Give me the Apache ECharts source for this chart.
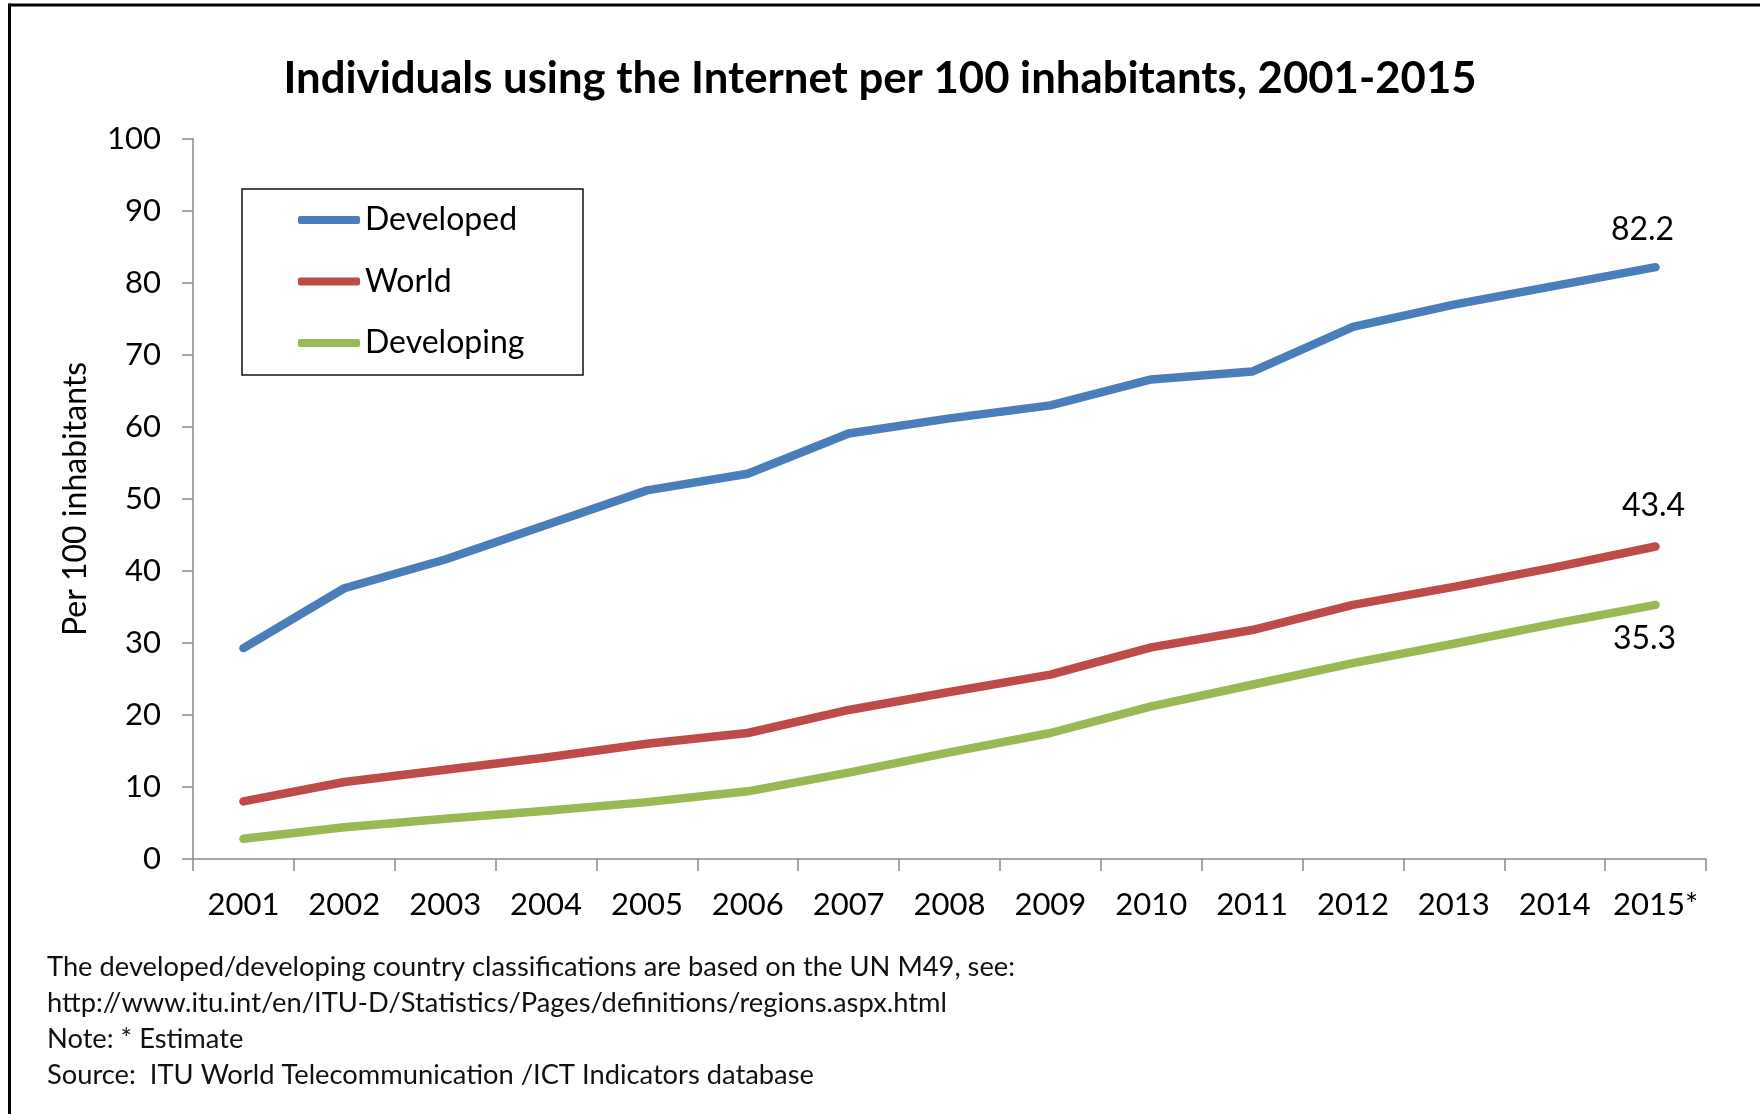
<!DOCTYPE html>
<html>
<head>
<meta charset="utf-8">
<script src="https://cdn.jsdelivr.net/npm/echarts@6/dist/echarts.min.js"></script>
<style>
html,body{margin:0;padding:0;background:#fff;}
#chart{width:1760px;height:1114px;}
</style>
</head>
<body>
<div id="chart"></div>
<script>
const years = ['2001','2002','2003','2004','2005','2006','2007','2008','2009','2010','2011','2012','2013','2014','2015*'];
const developed = [29.3, 37.6, 41.6, 46.4, 51.2, 53.5, 59.1, 61.2, 63.0, 66.6, 67.7, 73.9, 77.0, 79.6, 82.2];
const world = [8.0, 10.7, 12.4, 14.1, 16.0, 17.5, 20.7, 23.2, 25.6, 29.4, 31.8, 35.3, 37.8, 40.5, 43.4];
const developing = [2.8, 4.4, 5.6, 6.7, 7.9, 9.4, 12.0, 14.8, 17.5, 21.2, 24.2, 27.2, 29.9, 32.7, 35.3];
const yTicks = {min: 0, max: 100, interval: 10};
const titleText = 'Individuals using the Internet per 100 inhabitants, 2001-2015';
const yAxisName = 'Per 100 inhabitants';
const notes = [
  'The developed/developing country classifications are based on the UN M49, see:',
  'http://www.itu.int/en/ITU-D/Statistics/Pages/definitions/regions.aspx.html',
  'Note: * Estimate',
  'Source:  ITU World Telecommunication /ICT Indicators database'
];

const FONT = 'Lato, "Noto Sans", sans-serif';
const last = years.length - 1;

function mkData(arr, lab) {
  return arr.map((v, i) => i === last ? {value: v, label: Object.assign({show: true}, lab)} : v);
}

function mkSeries(name, arr, color, lab) {
  return {
    name: name,
    type: 'line',
    data: mkData(arr, lab),
    symbol: 'circle',
    symbolSize: 0.1,
    showSymbol: true,
    lineStyle: {color: color, width: 8.5, cap: 'round', join: 'round'},
    itemStyle: {color: color},
    label: {show: false, color: '#000', fontSize: 32, fontFamily: FONT},
    emphasis: {disabled: true},
    animation: false
  };
}

const chart = echarts.init(document.getElementById('chart'), null, {renderer: 'canvas'});
const graphics = [
  {type: 'line', shape: {x1: 9.5, y1: 5, x2: 1760, y2: 5}, style: {stroke: '#000', lineWidth: 3}},
  {type: 'line', shape: {x1: 9.5, y1: 3.5, x2: 9.5, y2: 1114}, style: {stroke: '#000', lineWidth: 3}},
  {type: 'rect', shape: {x: 242, y: 189, width: 341, height: 186}, style: {fill: 'none', stroke: '#111', lineWidth: 1.5}, z: 10}
];
notes.forEach((t, i) => {
  graphics.push({type: 'text', left: 47, top: 967 + i * 36 - 13, style: {text: t, fontSize: 27.3, fontFamily: FONT, fill: '#111'}});
});

chart.setOption({
  backgroundColor: '#fff',
  animation: false,
  title: {
    text: titleText, left: 'center', top: 52,
    textStyle: {fontSize: 43.7, fontWeight: 'bold', fontFamily: FONT, color: '#000'}
  },
  legend: {
    data: ['Developed', 'World', 'Developing'],
    orient: 'vertical', left: 298, top: 203, padding: 0,
    itemWidth: 62, itemHeight: 8, itemGap: 27.5, icon: 'roundRect',
    textStyle: {fontSize: 32, fontFamily: FONT, color: '#000', lineHeight: 34},
    z: 11
  },
  grid: {left: 193, right: 54, top: 139, bottom: 255, containLabel: false},
  xAxis: {
    type: 'category', data: years, boundaryGap: true,
    axisLine: {lineStyle: {color: '#888', width: 1.5}},
    axisTick: {show: true, length: 12, alignWithLabel: false, lineStyle: {color: '#888', width: 1.5}},
    axisLabel: {fontSize: 31, fontFamily: FONT, color: '#000', margin: 30, interval: 0},
    splitLine: {show: false}
  },
  yAxis: {
    type: 'value', min: yTicks.min, max: yTicks.max, interval: yTicks.interval,
    name: yAxisName, nameLocation: 'middle', nameRotate: 90, nameGap: 101,
    nameTextStyle: {fontSize: 32, fontFamily: FONT, color: '#000'},
    axisLine: {show: true, lineStyle: {color: '#888', width: 1.5}},
    axisTick: {show: true, length: 11, lineStyle: {color: '#888', width: 1.5}},
    axisLabel: {fontSize: 31, fontFamily: FONT, color: '#000', margin: 32},
    splitLine: {show: false}
  },
  graphic: graphics,
  series: [
    mkSeries('Developed', developed, '#4A7EBB', {position: 'top', distance: 21, offset: [-13, 0]}),
    mkSeries('World', world, '#BE4B48', {position: 'top', distance: 25, offset: [-2, 0]}),
    mkSeries('Developing', developing, '#98B954', {position: 'bottom', distance: 18, offset: [-11, 0]})
  ]
});
</script>
</body>
</html>
